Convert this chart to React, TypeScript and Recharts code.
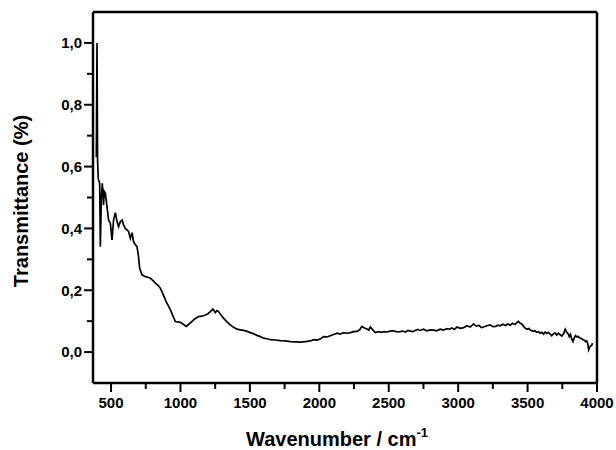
import React from "react";
import { LineChart, Line, XAxis, YAxis, ReferenceLine, Label } from "recharts";

// FTIR spectrum, wavenumber (cm-1) vs transmittance
const wavenumber = [
  394, 399, 403, 408, 418, 423, 430, 437, 446, 451, 459, 471, 482, 495, 507, 518,
  531, 543, 554, 567, 581, 590, 603, 615, 626, 639, 651, 662, 675, 687, 698, 706,
  723, 747, 765, 783, 800, 819, 838, 855, 872, 891, 910, 927, 945, 963, 980, 999,
  1020, 1042, 1060, 1083, 1105, 1130, 1155, 1179, 1198, 1215, 1234, 1251, 1262,
  1274, 1292, 1310, 1335, 1359, 1383, 1407, 1430, 1454, 1480, 1503, 1527, 1551,
  1575, 1598, 1622, 1647, 1683, 1719, 1755, 1791, 1827, 1863, 1900, 1935, 1958,
  1983, 2007, 2030, 2055, 2079, 2103, 2127, 2150, 2175, 2200, 2223, 2248, 2271,
  2290, 2307, 2325, 2343, 2356, 2367, 2385, 2403, 2425, 2445, 2466, 2487, 2510,
  2535, 2560, 2583, 2600, 2620, 2638, 2655, 2672, 2690, 2708, 2727, 2750, 2775,
  2800, 2823, 2845, 2870, 2895, 2919, 2937, 2955, 2973, 2991, 3015, 3040, 3063,
  3087, 3111, 3130, 3150, 3167, 3183, 3207, 3231, 3250, 3270, 3287, 3303, 3322,
  3340, 3358, 3375, 3392, 3410, 3422, 3434, 3447, 3459, 3477, 3495, 3508, 3520,
  3531, 3542, 3553, 3565, 3578, 3591, 3603, 3615, 3627, 3638, 3649, 3660, 3673,
  3686, 3698, 3710, 3722, 3734, 3747, 3760, 3771, 3782, 3791, 3800, 3809, 3818,
  3827, 3836, 3845, 3854, 3863, 3872, 3881, 3890, 3900, 3910, 3918, 3926, 3933,
  3940, 3950, 3962, 3968, 3974, 3980, 3986, 3992, 3998,
];

const transmittance = [
  0.63, 1.0, 0.62, 0.56, 0.546, 0.341, 0.5, 0.546, 0.476, 0.52, 0.514, 0.47, 0.427,
  0.417, 0.363, 0.427, 0.451, 0.422, 0.406, 0.422, 0.427, 0.411, 0.4, 0.395, 0.39,
  0.368, 0.386, 0.357, 0.347, 0.341, 0.309, 0.271, 0.25, 0.244, 0.242, 0.239, 0.232,
  0.223, 0.216, 0.207, 0.19, 0.169, 0.152, 0.137, 0.118, 0.099, 0.098, 0.096, 0.09,
  0.083, 0.09, 0.099, 0.108, 0.115, 0.116, 0.12, 0.124, 0.131, 0.139, 0.128, 0.134,
  0.131, 0.12, 0.11, 0.098, 0.088, 0.08, 0.074, 0.072, 0.07, 0.067, 0.063, 0.059,
  0.054, 0.05, 0.045, 0.043, 0.04, 0.039, 0.037, 0.036, 0.034, 0.033, 0.032, 0.034,
  0.036, 0.04, 0.039, 0.042, 0.05, 0.049, 0.053, 0.057, 0.061, 0.058, 0.063, 0.061,
  0.063, 0.066, 0.067, 0.072, 0.083, 0.078, 0.075, 0.071, 0.081, 0.072, 0.063,
  0.066, 0.064, 0.066, 0.065, 0.068, 0.069, 0.065, 0.066, 0.068, 0.065, 0.07, 0.068,
  0.066, 0.07, 0.073, 0.07, 0.074, 0.069, 0.072, 0.071, 0.069, 0.074, 0.071, 0.076,
  0.074, 0.078, 0.073, 0.081, 0.077, 0.079, 0.085, 0.081, 0.091, 0.084, 0.086, 0.079,
  0.081, 0.085, 0.088, 0.082, 0.083, 0.087, 0.085, 0.09, 0.086, 0.091, 0.087, 0.093,
  0.089, 0.095, 0.099, 0.093, 0.091, 0.08, 0.074, 0.076, 0.071, 0.069, 0.067, 0.069,
  0.064, 0.066, 0.061, 0.064, 0.058, 0.065, 0.06, 0.063, 0.06, 0.053, 0.059, 0.062,
  0.055, 0.061, 0.056, 0.052, 0.06, 0.074, 0.064, 0.06, 0.05, 0.057, 0.042, 0.034,
  0.046, 0.053, 0.049, 0.051, 0.047, 0.045, 0.043, 0.04, 0.038, 0.034, 0.036, 0.028,
  0.007, 0.018, 0.022, 0.029,
];

const xTicks = [500, 750, 1000, 1250, 1500, 1750, 2000, 2250, 2500, 2750, 3000, 3250, 3500, 3750, 4000];
const yTicks = [0, 0.1, 0.2, 0.3, 0.4, 0.5, 0.6, 0.7, 0.8, 0.9, 1.0];

const data = wavenumber.map((w, i) => ({ w, t: transmittance[i] }));

const FONT = "'Liberation Sans', Arial, sans-serif";

const XTick = (props: any) => {
  const { x, y, payload } = props;
  const major = payload.value % 500 === 0;
  return (
    <g>
      <line x1={x} y1={y} x2={x} y2={y + (major ? 9 : 6)} stroke="#000" strokeWidth={2} />
      {major && (
        <text x={x} y={y + 25} textAnchor="middle" fontFamily={FONT} fontWeight="bold" fontSize={15} fill="#000">
          {payload.value}
        </text>
      )}
    </g>
  );
};

const YTick = (props: any) => {
  const { x, y, payload } = props;
  const major = Math.round(payload.value * 10) % 2 === 0;
  return (
    <g>
      <line x1={x} y1={y} x2={x - (major ? 9 : 6)} y2={y} stroke="#000" strokeWidth={2} />
      {major && (
        <text x={x - 11} y={y} dy="0.36em" textAnchor="end" fontFamily={FONT} fontWeight="bold" fontSize={15} fill="#000">
          {payload.value.toFixed(1).replace(".", ",")}
        </text>
      )}
    </g>
  );
};

const XTitle = (props: any) => {
  const { viewBox } = props;
  const cx = viewBox.x + viewBox.width / 2 - 8;
  return (
    <text x={cx} y={viewBox.y + 63} textAnchor="middle" fontFamily={FONT} fontWeight="bold" fontSize={20} fill="#000">
      Wavenumber / cm
      <tspan dy={-9} fontSize={13}>-1</tspan>
    </text>
  );
};

const YTitle = () => (
  <text
    x={21}
    y={201}
    transform="rotate(-90 21 201)"
    textAnchor="middle"
    dy="0.35em"
    fontFamily={FONT}
    fontWeight="bold"
    fontSize={20}
    fill="#000"
  >
    Transmittance (%)
  </text>
);

export default function App() {
  return (
    <div style={{ position: "absolute", left: 0, top: 0, background: "#fff" }}>
      <LineChart width={616} height={450} data={data} margin={{ top: 12, right: 19, bottom: 0, left: 0 }}>
        <XAxis
          dataKey="w"
          type="number"
          domain={[370, 4000]}
          ticks={xTicks}
          allowDataOverflow
          height={67}
          tickSize={0}
          tickMargin={0}
          tickLine={false}
          tick={<XTick />}
          axisLine={{ stroke: "#000", strokeWidth: 2.5 }}
          interval={0}
        >
          <Label content={<XTitle />} />
        </XAxis>
        <YAxis
          type="number"
          domain={[-0.1, 1.1]}
          ticks={yTicks}
          allowDataOverflow
          width={93}
          tickSize={0}
          tickMargin={0}
          tickLine={false}
          tick={<YTick />}
          axisLine={{ stroke: "#000", strokeWidth: 2.5 }}
          interval={0}
        >
          <Label content={<YTitle />} />
        </YAxis>
        <ReferenceLine y={1.1} stroke="#000" strokeWidth={2.5} />
        <ReferenceLine x={4000} stroke="#000" strokeWidth={2.5} />
        <Line
          type="linear"
          dataKey="t"
          stroke="#000"
          strokeWidth={1.7}
          dot={false}
          isAnimationActive={false}
        />
      </LineChart>
    </div>
  );
}
